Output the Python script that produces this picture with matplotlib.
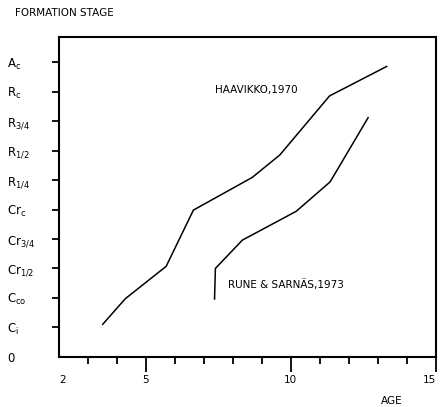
import numpy as np
import matplotlib
matplotlib.use("Agg")
import matplotlib.pyplot as plt

# formation stage levels (0 .. Ac)
stage_labels = ["0", r"$\mathregular{C_i}$", r"$\mathregular{C_{co}}$",
                r"$\mathregular{Cr_{1/2}}$", r"$\mathregular{Cr_{3/4}}$",
                r"$\mathregular{Cr_c}$", r"$\mathregular{R_{1/4}}$",
                r"$\mathregular{R_{1/2}}$", r"$\mathregular{R_{3/4}}$",
                r"$\mathregular{R_c}$", r"$\mathregular{A_c}$"]
stage_pos = np.arange(len(stage_labels))

# Haavikko, 1970
haav_age = [3.51, 4.29, 5.70, 6.64, 8.67, 9.62, 11.34, 13.31]
haav_stage = [1.10, 1.97, 3.07, 4.98, 6.09, 6.85, 8.86, 9.86]

# Rune & Sarnas, 1973
rune_age = [7.37, 7.40, 8.33, 10.19, 11.36, 12.67]
rune_stage = [1.96, 3.00, 3.96, 4.94, 5.94, 8.12]

age_major = [2, 5, 10, 15]
age_minor = [3, 4, 6, 7, 8, 9, 11, 12, 13, 14]

plt.rcParams['font.family'] = 'DejaVu Sans'
plt.rcParams['font.size'] = 7.5

fig = plt.figure(figsize=(4.4, 4.07), dpi=100)
ax = fig.add_axes([0.134, 0.1236, 0.856, 0.7854])

ax.plot(haav_age, haav_stage, color="black", lw=1.1)
ax.plot(rune_age, rune_stage, color="black", lw=1.1)

ax.set_xlim(2, 15)
ax.set_ylim(0, 10.86)

ax.set_xticks(age_major)
ax.set_xticklabels([str(a) for a in age_major])
ax.set_xticks(age_minor, minor=True)
ax.tick_params(axis="x", which="major", direction="out", length=10.5, width=1.3, pad=3)
ax.tick_params(axis="x", which="minor", direction="out", length=5, width=1.3)
ax.xaxis.get_major_ticks()[0].tick1line.set_visible(False)
xl = ax.get_xticklabels()
xl[0].set_horizontalalignment("left")
xl[-1].set_horizontalalignment("right")

ax.set_yticks(stage_pos)
ax.set_yticklabels(stage_labels)
ax.tick_params(axis="y", direction="out", length=5, width=1.3, pad=32.5,
               labelsize=8.5)
for t in ax.get_yticklabels():
    t.set_horizontalalignment("left")
ax.yaxis.get_major_ticks()[0].tick1line.set_visible(False)

for s in ax.spines.values():
    s.set_linewidth(1.5)

ax.text(215, 407 - 90, "HAAVIKKO,1970", transform=None, va="center", ha="left")
ax.text(228, 407 - 285, "RUNE & SARNÄS,1973", transform=None, va="center", ha="left")
fig.text(15 / 440, 1 - 13 / 407, "FORMATION STAGE", ha="left", va="center")
fig.text(392 / 440, 1 - 401 / 407, "AGE", ha="center", va="center")

fig.savefig("out.png", dpi=100)
